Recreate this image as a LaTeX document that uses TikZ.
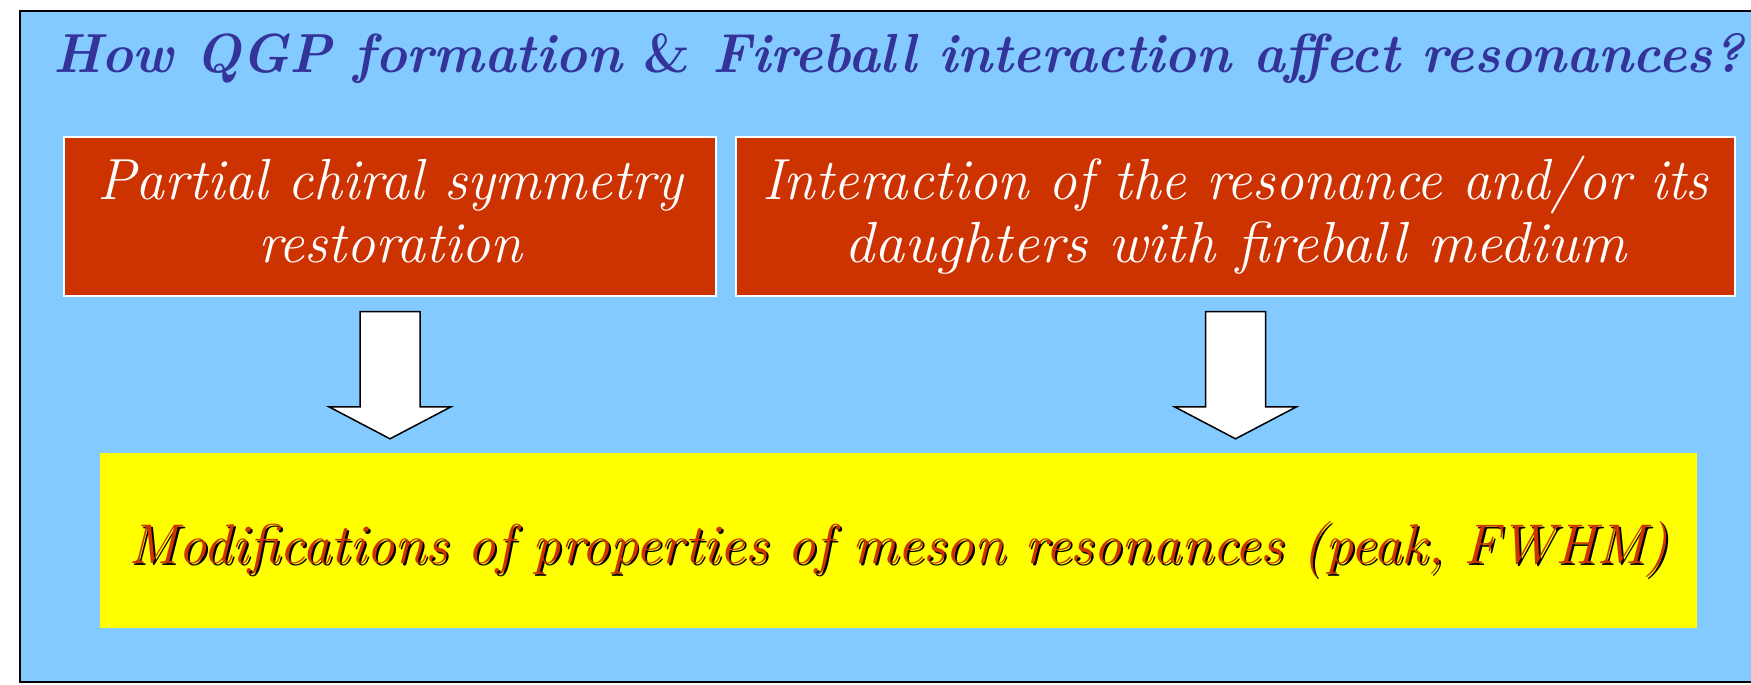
\documentclass[tikz,border=0pt]{standalone}
\usepackage{fontspec}
\usepackage{graphicx}
\usetikzlibrary{calc}

\definecolor{skyfill}{RGB}{130,202,255}
\definecolor{brick}{RGB}{204,51,0}
\definecolor{navy}{RGB}{51,51,153}
\definecolor{lemon}{RGB}{255,255,0}

% text with a black drop shadow below and to the right
\newcommand\shadowtext[1]{\leavevmode\rlap{\kern2pt\raisebox{-2.2pt}{\color{black}#1}}#1}
% one line of text stretched or squeezed sideways to a given width
\newcommand\fitline[2]{\resizebox{#1}{\height}{#2}}
% a plain ampersand, slanted
\newcommand\slantamp{{\upshape\addfontfeature{FakeSlant=0.2}\&}}

% white block arrow pointing down, from the top of its shaft to its tip
\newcommand\blockarrow[2]{%
  \draw[arrowbody] ($(#1)+(-30,0)$) -- ($(#1)+(30,0)$) -- ($(#2)+(30,-32)$)
    -- ($(#2)+(61,-32)$) -- (#2) -- ($(#2)+(-61,-32)$) -- ($(#2)+(-30,-32)$) -- cycle;}

\begin{document}
\begin{tikzpicture}[x=1pt,y=-1pt,
  panel/.style={draw=black, line width=1.5pt, fill=skyfill},
  heading/.style={anchor=base west, inner sep=0pt, text=navy,
    font=\fontsize{55pt}{60pt}\selectfont\bfseries\itshape\addfontfeature{FakeBold=0.6}},
  causebox/.style={draw=white, line width=1.2pt, fill=brick, text=white,
    inner sep=0pt, align=center, minimum height=159pt,
    font=\fontsize{58pt}{63pt}\selectfont\itshape},
  effectbox/.style={fill=lemon, inner sep=0pt, minimum width=1597pt,
    minimum height=175pt, text height=60pt, text depth=15pt, text=brick,
    font=\fontsize{56pt}{60pt}\selectfont\itshape\addfontfeature{FakeBold=1}},
  arrowbody/.style={draw=black, line width=1.5pt, fill=white, line join=miter},
]
\useasboundingbox (0,0) rectangle (1751,685);
\clip (0,0) rectangle (1751,685);

\draw[panel] (20,11) rectangle (1765,682);

\node[heading] (title) at (53,73)
  {\fitline{1691pt}{How QGP formation \slantamp{} Fireball interaction affect resonances?}};

\node[causebox, minimum width=652pt] (cause1) at (390,216.5)
  {\rule{0pt}{43pt}\fitline{585pt}{Partial chiral symmetry}\\
   \fitline{264pt}{restoration}\rule[-15pt]{0pt}{15pt}};
\node[causebox, minimum width=999pt] (cause2) at (1235.5,216.5)
  {\rule{0pt}{43pt}\fitline{946pt}{Interaction of the resonance and/or its}\\
   \fitline{782pt}{daughters with fireball medium}\rule[-15pt]{0pt}{15pt}};

\node[effectbox] (effect) at (898.5,540.5)
  {\fitline{1540pt}{\shadowtext{Modifications of properties of meson resonances (peak, FWHM)}}};

\coordinate (a1top) at ($(cause1.south)+(0,15)$);
\coordinate (a1tip) at ($(effect.north -| cause1.south)+(0,-14)$);
\coordinate (a2top) at ($(cause2.south)+(0,15)$);
\coordinate (a2tip) at ($(effect.north -| cause2.south)+(0,-14)$);
\blockarrow{a1top}{a1tip}
\blockarrow{a2top}{a2tip}
\end{tikzpicture}
\end{document}
